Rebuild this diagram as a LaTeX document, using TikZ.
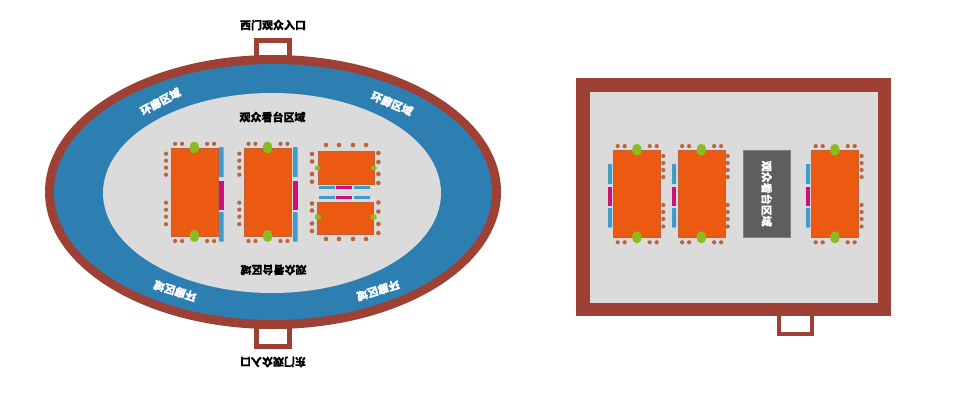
\documentclass[tikz,border=0pt]{standalone}
\usepackage{fontspec}
\setmainfont[BoldFeatures={FakeBold=0.3}]{Noto Sans CJK SC}
\definecolor{wall}{HTML}{9E4034}
\definecolor{ring}{HTML}{2E7FB1}
\definecolor{floorg}{HTML}{DBDBDB}
\definecolor{court}{HTML}{EB5A10}
\definecolor{lime}{HTML}{8ABC22}
\definecolor{mag}{HTML}{CC1279}
\definecolor{strip}{HTML}{3D9CCB}
\definecolor{seat}{HTML}{BF6238}
\definecolor{panel}{HTML}{5F5E5D}
\tikzset{
  courtbox/.style={fill=court,draw=seat,line width=0.4pt},
  bluebar/.style={fill=strip},
  magbar/.style={fill=mag},
  seatdot/.style={fill=seat},
  limepad/.style={fill=lime,rounded corners=4.2pt},
  entry/.style={draw=wall,line width=4.5pt,fill=white},
  lab/.style={font=\bfseries\fontsize{11}{12}\selectfont,inner sep=0pt},
  ringlab/.style={lab,text=white}
}
\newcommand{\sdot}[2]{\fill[seatdot] (#1,#2) circle (2.3pt);}
\newcommand{\vcourt}[4]{%
  \pgfmathsetmacro{\xr}{#1+47.3}\pgfmathsetmacro{\yb}{#2+#3}%
  \pgfmathsetmacro{\xc}{#1+23.6}%
  \filldraw[courtbox] (#1,#2) rectangle (\xr,\yb);
  \foreach \dx in {4.4,11.4,36.4,43.4}{
    \fill[seatdot] (#1+\dx,#2-3.9) circle (2.1pt);
    \fill[seatdot] (#1+\dx,\yb+5) circle (2.1pt);}
  \foreach \dy in {6,13,20,27,55,62,69,76.5}{
    \fill[seatdot] (#4,#2+\dy) circle (2.1pt);}
  \fill[limepad] (\xc-4.5,#2-6) rectangle (\xc+4.5,#2+5.5);
  \fill[limepad] (\xc-4.5,\yb-6) rectangle (\xc+4.5,\yb+5.8);
}
\begin{document}
\begin{tikzpicture}[x=1pt,y=-1pt]
\useasboundingbox (0,0) rectangle (960,410);
\fill[white] (0,0) rectangle (960,410);
% left hall
\draw[entry] (256.5,40.5) rectangle (289.5,62);
\draw[entry] (256.5,322) rectangle (289.5,346.5);
\fill[wall] (273,192) ellipse [x radius=228,y radius=137];
\fill[ring] (273,192) ellipse [x radius=219,y radius=128];
\fill[floorg] (272,193) ellipse [x radius=169,y radius=100];
\vcourt{170.7}{147.7}{88.3}{166}
\vcourt{244}{147.7}{88.3}{239.3}
\foreach \x in {219,293}{
  \fill[bluebar,rounded corners=0.6pt] (\x,147) rectangle (\x+4.6,177);
  \fill[magbar] (\x,180.5) rectangle (\x+4.6,209.5);
  \fill[bluebar,rounded corners=0.6pt] (\x,212) rectangle (\x+4.6,241.5);
}
% horizontal courts
\filldraw[courtbox] (317.7,151.3) rectangle (374,184);
\filldraw[courtbox] (317,201.7) rectangle (373.5,234);
\foreach \x in {326,339,353,366}{\sdot{\x}{145}\sdot{\x}{239}}
\foreach \y in {154,161.5,174,181.7,203.5,210.5,223.5,231}{\sdot{312}{\y}}
\foreach \y in {153,162,174,183,202.5,211.5,224,233}{\sdot{378.4}{\y}}
\foreach \x/\y in {317.7/168,374/168}{\fill[limepad,rounded corners=1pt] (\x-2.6,\y-2) rectangle (\x+2.6,\y+2);}
\foreach \x/\y in {318/217,373.5/217}{\fill[limepad,rounded corners=1pt] (\x-3,\y-2.3) rectangle (\x+3,\y+2.3);}
\foreach \y in {185.5,195.5}{
  \fill[bluebar] (319,\y) rectangle (335,\y+3);
  \fill[magbar] (336,\y) rectangle (352,\y+3);
  \fill[bluebar] (353.5,\y) rectangle (369.5,\y+3);
}
% right hall
\fill[wall] (576,78) rectangle (891,316);
\fill[floorg] (590,92) rectangle (878,303);
\draw[wall,line width=4pt,fill=white] (779,314) rectangle (812,334);
\vcourt{613.3}{150}{87.3}{663.3}
\vcourt{677.7}{150}{87.3}{727.7}
\vcourt{811.3}{150}{87.3}{861.6}
\foreach \x in {608,672,806}{
  \fill[bluebar,rounded corners=0.6pt] (\x,164) rectangle (\x+4,184);
  \fill[magbar] (\x,186.5) rectangle (\x+4,206);
  \fill[bluebar,rounded corners=0.6pt] (\x,208) rectangle (\x+4,227.5);
}
\node[fill=panel,draw=panel!80!white,line width=0.3pt,minimum width=46.5pt,minimum height=87.5pt,inner sep=0pt] (stand) at (766.7,193.7) {};
% labels
\node[lab,text=white,rotate=-90] (standtxt) at (stand.center) {观众看台区域};
\node[lab] (west) at (273,25) {西门观众入口};
\node[lab,rotate=180] (east) at (273,362) {东门观众入口};
\node[lab] (stand1) at (272.5,117) {观众看台区域};
\node[lab,rotate=180] (stand2) at (273.5,270) {观众看台区域};
\node[ringlab,rotate=28] (r1) at (160.5,101.5) {环廊区域};
\node[ringlab,rotate=-23] (r2) at (392,103.5) {环廊区域};
\node[ringlab,rotate=162] (r3) at (175,291) {环廊区域};
\node[ringlab,rotate=197] (r4) at (378,290.5) {环廊区域};
\end{tikzpicture}
\end{document}
